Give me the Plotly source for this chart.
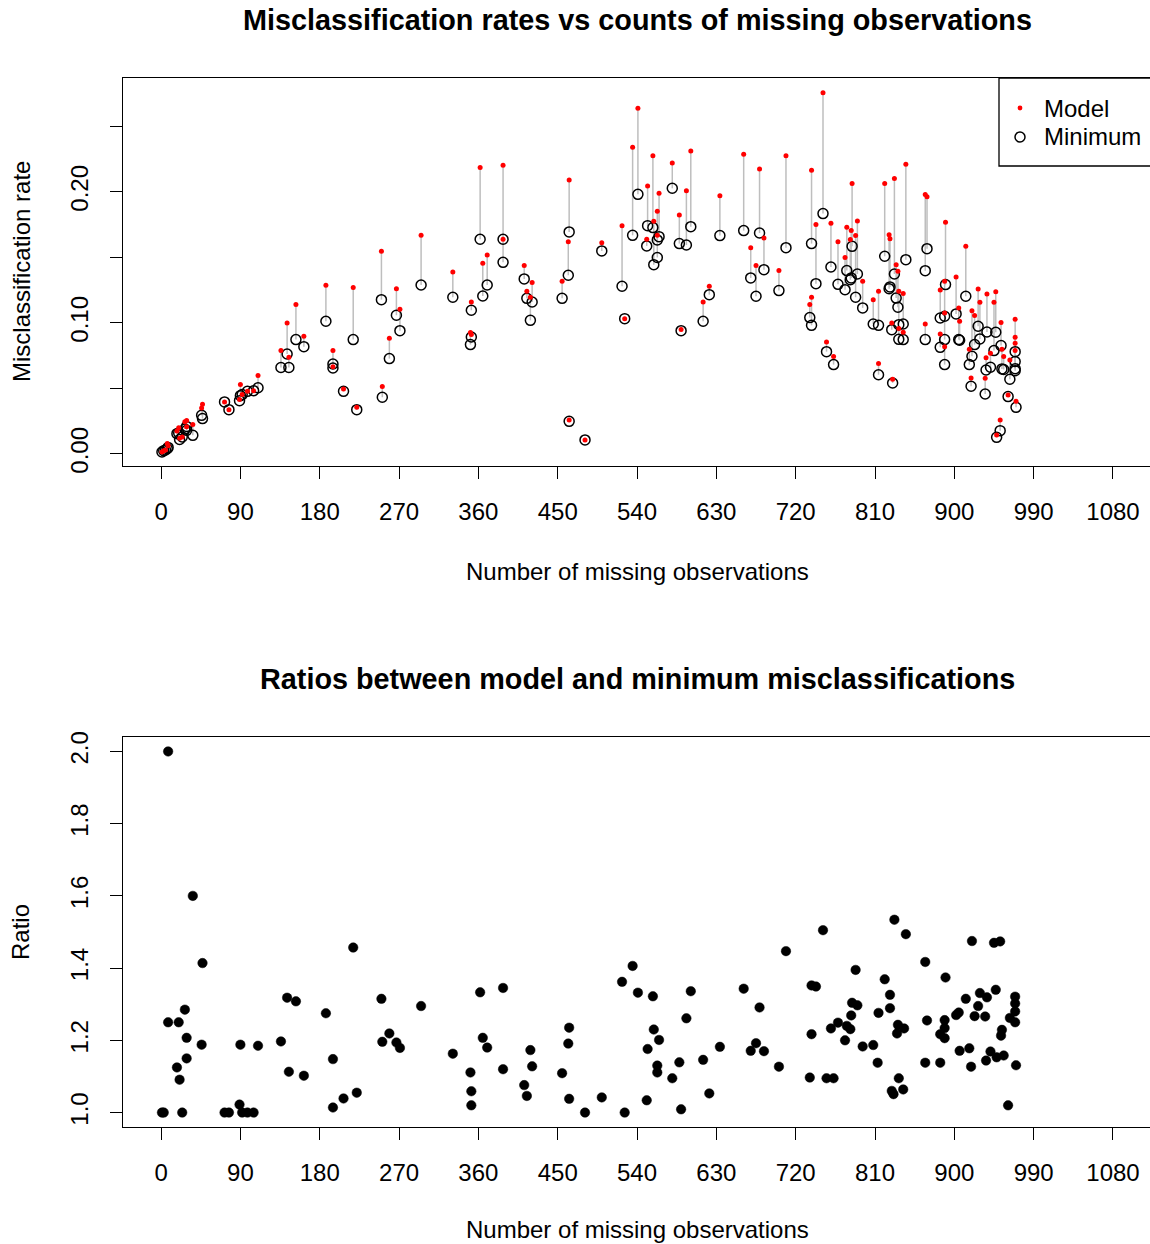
import plotly.graph_objects as go

# ---------------- data ----------------
missing_counts = [1, 3, 5, 7, 8, 18, 20, 21, 24, 27, 29, 29, 36, 46, 47, 72, 77, 89, 90, 92,
                  98, 105, 110, 136, 143, 145, 153, 162, 187, 195, 195, 207, 222, 218, 250, 251, 259, 267, 271, 295,
                  331, 351, 352, 352, 362, 365, 370, 388, 388, 412, 415, 421, 419, 455, 463, 462, 463, 481, 500, 523,
                  526, 535, 541, 551, 552, 558, 559, 563, 563, 565, 580, 588, 590, 596, 601, 615, 622, 634, 661, 669,
                  675, 679, 684, 701, 709, 736, 738, 738, 743, 751, 755, 763, 760, 768, 776, 778, 782, 783, 784, 788,
                  790, 796, 808, 814, 814, 821, 826, 827, 829, 830, 832, 834, 836, 837, 842, 837, 842, 845, 867, 869,
                  867, 884, 884, 890, 889, 889, 889, 902, 905, 906, 913, 917, 919, 920, 923, 927, 929, 937, 936, 935,
                  941, 945, 947, 948, 952, 953, 954, 956, 961, 963, 969, 969, 969, 969, 970]

minimum_rates = [0.0015, 0.0025, 0.0030, 0.0040, 0.0050, 0.0155, 0.0160, 0.0110, 0.0130, 0.0190,
                 0.0210, 0.0180, 0.0142, 0.0295, 0.0270, 0.0397, 0.0338, 0.0407, 0.0445, 0.0453,
                 0.0478, 0.0483, 0.0505, 0.0660, 0.0763, 0.0660, 0.0873, 0.0819, 0.1013, 0.0687,
                 0.0656, 0.0478, 0.0338, 0.0873, 0.1178, 0.0433, 0.0728, 0.1059, 0.0941, 0.1290,
                 0.1196, 0.0835, 0.1097, 0.0893, 0.1639, 0.1206, 0.1290, 0.1639, 0.1463, 0.1336,
                 0.1188, 0.1160, 0.1020, 0.1188, 0.1695, 0.1364, 0.0249, 0.0107, 0.1550, 0.1280,
                 0.1033, 0.1669, 0.1982, 0.1588, 0.1743, 0.1728, 0.1445, 0.1634, 0.1500, 0.1659,
                 0.2028, 0.1606, 0.0941, 0.1595, 0.1735, 0.1013, 0.1216, 0.1667, 0.1705, 0.1344,
                 0.1204, 0.1687, 0.1407, 0.1247, 0.1575, 0.1041, 0.0982, 0.1606, 0.1300, 0.1835,
                 0.0781, 0.0682, 0.1427, 0.1295, 0.1254, 0.1400, 0.1330, 0.1344, 0.1585, 0.1196,
                 0.1374, 0.1115, 0.0992, 0.0605, 0.0982, 0.1509, 0.1262, 0.1275, 0.0949, 0.0542,
                 0.1374, 0.1190, 0.1120, 0.0987, 0.0992, 0.0875, 0.0873, 0.1483, 0.1399, 0.1567,
                 0.0873, 0.1038, 0.0814, 0.1293, 0.1051, 0.0873, 0.0682, 0.1069, 0.0873, 0.0868,
                 0.1204, 0.0682, 0.0517, 0.0746, 0.0835, 0.0975, 0.0878, 0.0931, 0.0641, 0.0458,
                 0.0662, 0.0789, 0.0929, 0.0127, 0.0178, 0.0827, 0.0649, 0.0645, 0.0438, 0.0570,
                 0.0781, 0.0650, 0.0705, 0.0636, 0.0356]

model_rates = [0.0015, 0.0025, 0.0030, 0.0080, 0.0063, 0.0175, 0.0200, 0.0120, 0.0130, 0.0245,
               0.0255, 0.0207, 0.0225, 0.0350, 0.0380, 0.0397, 0.0338, 0.0416, 0.0530, 0.0453,
               0.0478, 0.0483, 0.0598, 0.0789, 0.1000, 0.0738, 0.1140, 0.0898, 0.1288, 0.0789,
               0.0665, 0.0496, 0.0356, 0.1270, 0.1547, 0.0514, 0.0883, 0.1262, 0.1104, 0.1669,
               0.1389, 0.0928, 0.1160, 0.0911, 0.2186, 0.1455, 0.1519, 0.2204, 0.1639, 0.1438,
               0.1242, 0.1308, 0.1196, 0.1318, 0.2092, 0.1620, 0.0259, 0.0107, 0.1613, 0.1743,
               0.1033, 0.2341, 0.2639, 0.1639, 0.2046, 0.2277, 0.1776, 0.1852, 0.1669, 0.1990,
               0.2221, 0.1824, 0.0950, 0.2010, 0.2313, 0.1160, 0.1280, 0.1972, 0.2288, 0.1575,
               0.1438, 0.2176, 0.1649, 0.1400, 0.2277, 0.1140, 0.1196, 0.2165, 0.1751, 0.2758,
               0.0855, 0.0743, 0.1761, 0.1620, 0.1500, 0.1730, 0.1637, 0.1705, 0.2064, 0.1667,
               0.1779, 0.1318, 0.1178, 0.0690, 0.1242, 0.2064, 0.1673, 0.1643, 0.1000, 0.0570,
               0.2102, 0.1445, 0.1394, 0.1242, 0.1224, 0.0958, 0.0929, 0.2211, 0.1980, 0.1964,
               0.0992, 0.1252, 0.0916, 0.1768, 0.1318, 0.1076, 0.0819, 0.1351, 0.1115, 0.1013,
               0.1585, 0.0799, 0.0580, 0.1094, 0.1056, 0.1260, 0.1158, 0.1221, 0.0735, 0.0578,
               0.0768, 0.1158, 0.1239, 0.0145, 0.0260, 0.1003, 0.0799, 0.0743, 0.0450, 0.0718,
               0.1028, 0.0845, 0.0891, 0.0789, 0.0402]

ratio_counts = [1, 3, 8, 8, 18, 20, 21, 24, 27, 29,
                29, 36, 46, 47, 72, 77, 89, 90, 92, 98,
                105, 110, 136, 143, 145, 153, 162, 187, 195, 195,
                207, 218, 222, 250, 251, 259, 267, 271, 295, 331,
                351, 352, 352, 362, 365, 370, 388, 388, 412, 415,
                419, 421, 455, 463, 462, 463, 481, 500, 523, 526,
                535, 541, 558, 551, 559, 565, 552, 563, 563, 580,
                588, 590, 596, 601, 615, 622, 634, 661, 679, 669,
                675, 684, 701, 709, 736, 738, 743, 738, 751, 755,
                763, 760, 768, 776, 778, 782, 783, 784, 790, 788,
                796, 808, 813, 814, 821, 827, 827, 832, 829, 831,
                845, 836, 835, 843, 837, 842, 867, 869, 867, 884,
                890, 889, 889, 884, 889, 902, 905, 906, 913, 917,
                920, 919, 923, 929, 927, 937, 935, 936, 941, 945,
                952, 947, 948, 956, 953, 954, 961, 963, 969, 969,
                969, 969, 970]

ratios = [1.0, 1.0, 2.0, 1.25, 1.125, 1.25, 1.091, 1.0, 1.285, 1.207,
          1.15, 1.6, 1.188, 1.414, 1.0, 1.0, 1.022, 1.188, 1.0, 1.0,
          1.0, 1.185, 1.197, 1.318, 1.113, 1.308, 1.102, 1.275, 1.148, 1.014,
          1.039, 1.457, 1.055, 1.315, 1.196, 1.219, 1.194, 1.179, 1.295, 1.163,
          1.111, 1.059, 1.020, 1.333, 1.207, 1.180, 1.345, 1.120, 1.076, 1.046,
          1.173, 1.128, 1.109, 1.235, 1.191, 1.038, 1.0, 1.042, 1.362, 1.0,
          1.406, 1.332, 1.322, 1.034, 1.230, 1.201, 1.176, 1.130, 1.111, 1.095,
          1.139, 1.009, 1.261, 1.336, 1.146, 1.053, 1.182, 1.343, 1.291, 1.171,
          1.192, 1.170, 1.127, 1.447, 1.097, 1.352, 1.349, 1.217, 1.505, 1.095,
          1.095, 1.233, 1.249, 1.2, 1.240, 1.231, 1.269, 1.304, 1.297, 1.395,
          1.183, 1.187, 1.138, 1.276, 1.369, 1.326, 1.289, 1.534, 1.060, 1.051,
          1.494, 1.243, 1.219, 1.233, 1.095, 1.064, 1.417, 1.255, 1.138, 1.138,
          1.374, 1.256, 1.234, 1.217, 1.206, 1.270, 1.277, 1.171, 1.315, 1.178,
          1.475, 1.127, 1.267, 1.331, 1.295, 1.319, 1.266, 1.144, 1.169, 1.470,
          1.474, 1.340, 1.153, 1.158, 1.213, 1.229, 1.020, 1.262, 1.321, 1.302,
          1.280, 1.25, 1.131]

x_tick_values = [0, 90, 180, 270, 360, 450, 540, 630, 720, 810, 900, 990, 1080]
top_y_tick_values = [0.00, 0.05, 0.10, 0.15, 0.20, 0.25]
top_y_tick_labels = ["0.00", "", "0.10", "", "0.20", ""]
bottom_y_tick_values = [1.0, 1.2, 1.4, 1.6, 1.8, 2.0]
bottom_y_tick_labels = ["1.0", "1.2", "1.4", "1.6", "1.8", "2.0"]
legend_labels = ["Model", "Minimum"]

# ---------------- figure ----------------
W, H = 1150, 1244
FONT = "Liberation Sans, Arial, Helvetica, sans-serif"


def px_x(p):
    return p / W


def px_y(p):
    return 1 - p / H


seg_x, seg_y = [], []
for xv, lo, hi in zip(missing_counts, minimum_rates, model_rates):
    seg_x += [xv, xv, None]
    seg_y += [hi, lo, None]

fig = go.Figure()
fig.add_trace(go.Scatter(x=seg_x, y=seg_y, mode="lines",
                         line=dict(color="#BEBEBE", width=1.5),
                         showlegend=False, hoverinfo="skip", xaxis="x", yaxis="y"))
fig.add_trace(go.Scatter(x=missing_counts, y=minimum_rates, mode="markers", name="Minimum",
                         showlegend=False,
                         marker=dict(symbol="circle-open", color="black", size=10,
                                     line=dict(width=1.5, color="black")),
                         xaxis="x", yaxis="y"))
fig.add_trace(go.Scatter(x=missing_counts, y=model_rates, mode="markers", name="Model",
                         showlegend=False,
                         marker=dict(symbol="circle", color="#FF0000", size=5, line=dict(width=0)),
                         xaxis="x", yaxis="y"))
fig.add_trace(go.Scatter(x=ratio_counts, y=ratios, mode="markers", name="Ratio", showlegend=False,
                         marker=dict(symbol="circle", color="black", size=9.5,
                                     line=dict(width=0.5, color="black")),
                         xaxis="x2", yaxis="y2"))

axis_common = dict(showgrid=False, zeroline=False, showline=True, linecolor="black",
                   linewidth=1.3, ticks="outside", ticklen=12, tickwidth=1.3, tickcolor="black",
                   automargin=False,
                   tickfont=dict(family=FONT, size=24, color="black"))

x_dom = [px_x(123), 1.0]
fig.update_layout(
    width=W, height=H, autosize=False,
    margin=dict(l=0, r=0, t=0, b=0, pad=0, autoexpand=False),
    paper_bgcolor="white", plot_bgcolor="white",
    font=dict(family=FONT, size=24, color="black"),
    showlegend=False,
    xaxis=dict(domain=x_dom, range=[-43.2, 1122], tickvals=x_tick_values,
               anchor="y", mirror=True, ticklabelstandoff=12, **axis_common),
    yaxis=dict(domain=[px_y(466), px_y(78)], range=[-0.0092, 0.287],
               tickvals=top_y_tick_values, ticktext=top_y_tick_labels, tickangle=-90,
               anchor="x", mirror=False, ticklabelstandoff=12, **axis_common),
    xaxis2=dict(domain=x_dom, range=[-43.2, 1122], tickvals=x_tick_values,
                anchor="y2", mirror=True, ticklabelstandoff=12, **axis_common),
    yaxis2=dict(domain=[px_y(1127), px_y(737)], range=[0.96, 2.04],
                tickvals=bottom_y_tick_values, ticktext=bottom_y_tick_labels, tickangle=-90,
                anchor="x2", mirror=False, ticklabelstandoff=12, **axis_common),
)

# legend box (R-style, top right of the upper panel, running past the right edge)
fig.add_shape(type="rect", xref="paper", yref="paper",
              x0=px_x(999), x1=px_x(1165), y0=px_y(166), y1=px_y(78),
              line=dict(color="black", width=1.3), fillcolor="white", layer="above")
fig.add_shape(type="circle", xref="paper", yref="paper",
              x0=px_x(1017.6), x1=px_x(1022.4), y0=px_y(110.4), y1=px_y(105.6),
              line=dict(color="#FF0000", width=0), fillcolor="#FF0000", layer="above")
fig.add_shape(type="circle", xref="paper", yref="paper",
              x0=px_x(1015), x1=px_x(1025), y0=px_y(142), y1=px_y(132),
              line=dict(color="black", width=1.5), fillcolor="white", layer="above")
for label, ypx in zip(legend_labels, [108, 137]):
    fig.add_annotation(text=label, x=px_x(1042), y=px_y(ypx), xref="paper", yref="paper",
                       xanchor="left", yanchor="middle", showarrow=False,
                       font=dict(family=FONT, size=24, color="black"))

annotations = [
    dict(text="<b>Misclassification rates vs counts of missing observations</b>",
         x=px_x(637), y=px_y(20), size=28.8, angle=0),
    dict(text="<b>Ratios between model and minimum misclassifications</b>",
         x=px_x(637), y=px_y(679), size=28.8, angle=0),
    dict(text="Number of missing observations", x=px_x(637), y=px_y(571), size=24, angle=0),
    dict(text="Number of missing observations", x=px_x(637), y=px_y(1229), size=24, angle=0),
    dict(text="Misclassification rate", x=px_x(21), y=px_y(272), size=24, angle=-90),
    dict(text="Ratio", x=px_x(21), y=px_y(932), size=24, angle=-90),
]
for a in annotations:
    fig.add_annotation(text=a["text"], x=a["x"], y=a["y"], xref="paper", yref="paper",
                       xanchor="center", yanchor="middle", showarrow=False,
                       textangle=a["angle"],
                       font=dict(family=FONT, size=a["size"], color="black"))

fig.write_html("out.html")
